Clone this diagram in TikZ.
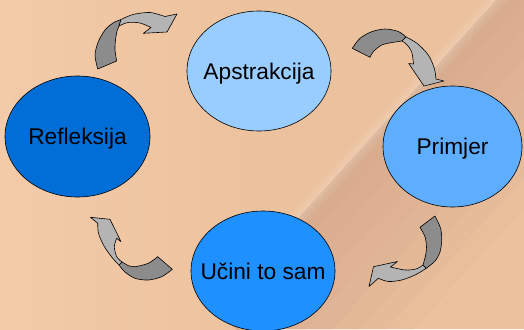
\documentclass[tikz,border=0pt]{standalone}
\usepackage{fontspec}
\setmainfont{Liberation Sans}
\usetikzlibrary{shapes.geometric,calc}
\definecolor{bgBase}{RGB}{236,193,158}
\definecolor{bgLight}{RGB}{243,203,168}
\definecolor{bgDark}{RGB}{200,155,130}
\definecolor{cAp}{RGB}{153,204,255}
\definecolor{cPr}{RGB}{95,173,255}
\definecolor{cRe}{RGB}{0,110,214}
\definecolor{cUc}{RGB}{30,144,255}
\definecolor{gDark}{RGB}{140,140,140}
\definecolor{gLight}{RGB}{180,180,180}
\tikzset{
  blob/.style={ellipse, draw=black, line width=0.6pt, inner sep=0pt},
  lbl/.style={font=\fontsize{22.7}{26}\selectfont, text=black, inner sep=0pt, text height=16pt, text depth=0pt},
  darkpart/.style={fill=gDark, draw=black, line width=0.6pt, line join=round},
  lightpart/.style={fill=gLight, draw=black, line width=0.6pt, line join=round},
  streak/.style={line cap=round, draw=white},
  shadow layer/.style={fill=bgDark, opacity=0.08},
}
\begin{document}
\begin{tikzpicture}[x=1pt,y=-1pt]
\useasboundingbox (0,0) rectangle (524,329);
% background
\fill[bgBase] (0,0) rectangle (524,329);
\shade[left color=bgLight, right color=bgBase] (0,0) rectangle (260,329);
\coordinate (s1) at (510,-15);
\coordinate (s2) at (215,310);
\foreach \d in {20,40,...,160} {
  \fill[shadow layer] (s1) -- (s2) -- ($(s2)+(0.74*\d,0.672*\d)$) -- ($(s1)+(0.74*\d,0.672*\d)$) -- cycle;
}
\draw[streak, line width=18pt, opacity=0.05] (s1) -- (s2);
\draw[streak, line width=12pt, opacity=0.06] (s1) -- (s2);
\draw[streak, line width=6pt, opacity=0.07] (s1) -- (s2);
% ellipses
\node[blob, fill=cAp, minimum width=144pt, minimum height=120pt] (ap) at (259,71) {};
\node[blob, fill=cPr, minimum width=139pt, minimum height=121pt] (pr) at (452.5,146.5) {};
\node[blob, fill=cRe, minimum width=145pt, minimum height=121pt] (re) at (77.5,136.5) {};
\node[blob, fill=cUc, minimum width=144pt, minimum height=120pt] (uc) at (263,271) {};
\node[lbl] (tap) at (ap.center) {Apstrakcija};
\node[lbl] (tpr) at (pr.center) {Primjer};
\node[lbl] (tre) at (re.center) {Refleksija};
\node[lbl] (tuc) at (uc.center) {Učini to sam};
% arrow 1 : Refleksija -> Apstrakcija
\path[darkpart] plot[smooth] coordinates {(97.7,69) (95,55) (98.3,41.7) (105,30) (113,23) (121,19.5)}
  -- (119,26) -- plot[smooth] coordinates {(117,31) (115.5,40) (115,50) (116.7,61)} -- cycle;
\path[lightpart] plot[smooth] coordinates {(121,19.5) (133,14.5) (150,12.5) (165,16.5)}
  -- (177,14) -- (167,32) -- (143.3,33.3)
  -- plot[smooth] coordinates {(151,27.5) (140,23) (128,22.5) (119,26)} -- cycle;
% arrow 2 : Apstrakcija -> Primjer
\path[darkpart] plot[smooth] coordinates {(352.3,48.3) (360,38.3) (371.7,31.7) (385,29) (398.3,31.5) (406,37)}
  -- (402,41) -- plot[smooth] coordinates {(393.3,42.3) (381.7,45) (373.3,51.7) (370,57.3)} -- cycle;
\path[lightpart] plot[smooth] coordinates {(406,37) (417,43.3) (428.3,55) (434.3,68.3) (436,79)}
  -- (444,81) -- (424,86) -- (408.7,63.5)
  -- plot[smooth] coordinates {(413.5,64) (411.7,52) (406.7,44.5) (402,41)} -- cycle;
% arrow 3 : Primjer -> Ucini
\path[darkpart] plot[smooth] coordinates {(435,216) (440.5,228) (441.7,240) (440,252) (435,261) (426,268.5)}
  -- (423,265) -- plot[smooth] coordinates {(425.5,256) (426.5,247) (425,236.7) (420,227.3)} -- cycle;
\path[lightpart] plot[smooth] coordinates {(426,268.5) (415,275) (401.7,280) (388.3,281.5) (378.3,278.3)}
  -- (369,286.5) -- (373.5,266.7) -- (397.5,261.5)
  -- plot[smooth] coordinates {(390.5,267) (405,270) (416,269) (423,265)} -- cycle;
% arrow 4 : Ucini -> Refleksija
\path[darkpart] plot[smooth] coordinates {(172.3,269.3) (161.7,276.7) (148.3,280) (135,278.3) (125,272) (119,265)}
  -- (122,262) -- plot[smooth] coordinates {(128,265.5) (135,266.7) (148.3,263.3) (157.7,256.7)} -- cycle;
\path[lightpart] plot[smooth] coordinates {(119,265) (112.5,258) (104,246) (98.5,233.3) (97.7,223.3)}
  -- (90.5,217.3) -- (110,219.3) -- (121,241.7)
  -- plot[smooth] coordinates {(116.7,238.3) (114.3,246.7) (116.7,256.7) (122,262)} -- cycle;
\end{tikzpicture}
\end{document}
